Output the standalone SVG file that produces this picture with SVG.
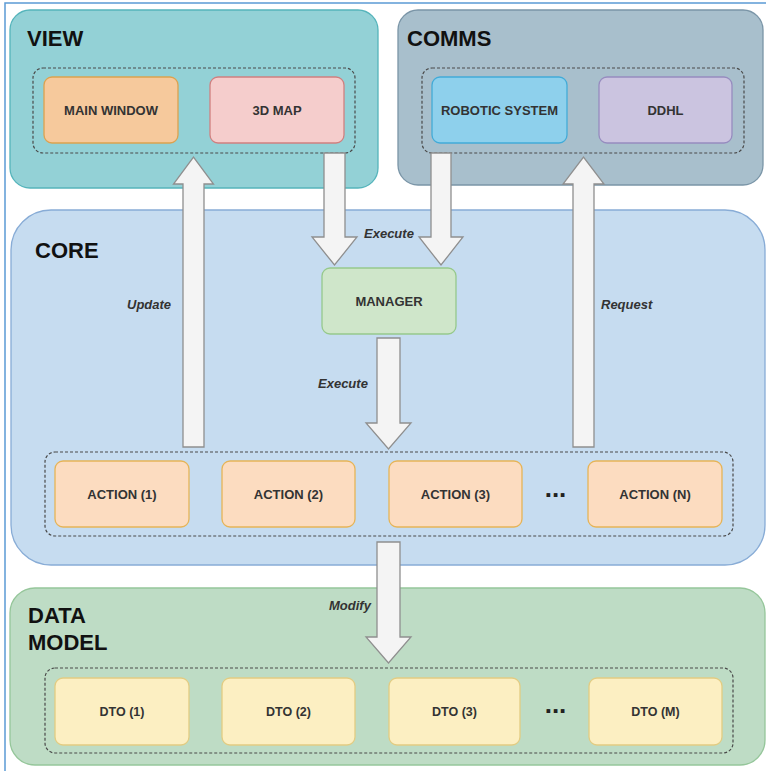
<svg xmlns="http://www.w3.org/2000/svg" width="766" height="771" viewBox="0 0 766 771">
  <style>
    .layer { stroke-width: 1.3; }
    .group { fill: none; stroke: #4a4a4a; stroke-width: 1.2; stroke-dasharray: 3 2; }
    .box { stroke-width: 1.3; }
    .title { font-family: "Liberation Sans", Arial, sans-serif; font-weight: bold; font-size: 22px; fill: #111; }
    .lbl { font-family: "Liberation Sans", Arial, sans-serif; font-weight: bold; font-size: 13px; fill: #333; text-anchor: middle; dominant-baseline: central; }
    .dto { font-size: 12.5px; }
    .dots { font-family: "Liberation Sans", Arial, sans-serif; font-weight: bold; font-size: 26px; fill: #222; text-anchor: middle; }
    .edge { font-family: "Liberation Sans", Arial, sans-serif; font-style: italic; font-weight: bold; font-size: 13px; fill: #333; }
    .arrow { fill: #f4f4f4; stroke: #8f8f8f; stroke-width: 1.3; stroke-linejoin: miter; }
    .action { fill: #fcdcc0; stroke: #e6b457; }
    .dtobox { fill: #fcefc2; stroke: #e2cc82; }
  </style>

  <rect width="766" height="771" fill="#ffffff"/>
  <!-- outer frame -->
  <rect x="5" y="3" width="780" height="790" fill="none" stroke="#5b9bd5" stroke-width="1.5"/>

  <!-- VIEW layer -->
  <g id="view">
    <rect class="layer" x="10" y="10" width="368" height="178" rx="20" fill="#93d1d6" stroke="#55b4bb"/>
    <text class="title" x="27" y="46">VIEW</text>
    <rect class="group" x="33" y="68" width="322" height="85" rx="10"/>
    <g id="main-window">
      <rect class="box" x="44" y="77" width="134" height="66" rx="8" fill="#f6c99c" stroke="#dca24f"/>
      <text class="lbl" x="111" y="110">MAIN WINDOW</text>
    </g>
    <g id="map-3d">
      <rect class="box" x="210" y="77" width="134" height="66" rx="8" fill="#f5cdcc" stroke="#cf8080"/>
      <text class="lbl" x="277" y="110">3D MAP</text>
    </g>
  </g>

  <!-- COMMS layer -->
  <g id="comms">
    <rect class="layer" x="398" y="10" width="365" height="175" rx="20" fill="#a8bfcc" stroke="#7a95a7"/>
    <text class="title" x="407" y="46">COMMS</text>
    <rect class="group" x="422" y="68" width="322" height="85" rx="10"/>
    <g id="robotic-system">
      <rect class="box" x="432" y="77" width="135" height="66" rx="8" fill="#8ed0ec" stroke="#42abd8"/>
      <text class="lbl" x="499.5" y="110">ROBOTIC SYSTEM</text>
    </g>
    <g id="ddhl">
      <rect class="box" x="599" y="77" width="133" height="66" rx="8" fill="#cbc4e0" stroke="#968cbf"/>
      <text class="lbl" x="665.5" y="110">DDHL</text>
    </g>
  </g>

  <!-- CORE layer -->
  <g id="core">
    <rect class="layer" x="11" y="210" width="754" height="355" rx="40" fill="#c6dcf0" stroke="#88acd6"/>
    <text class="title" x="35" y="258">CORE</text>
    <g id="manager">
      <rect class="box" x="322" y="268" width="134" height="66" rx="8" fill="#cfe6ca" stroke="#96c98c"/>
      <text class="lbl" x="389" y="301">MANAGER</text>
    </g>
    <rect class="group" x="45" y="452" width="688" height="84" rx="10"/>
    <g id="action-1">
      <rect class="box action" x="55" y="461" width="134" height="66" rx="8"/>
      <text class="lbl" x="122" y="494">ACTION (1)</text>
    </g>
    <g id="action-2">
      <rect class="box action" x="222" y="461" width="133" height="66" rx="8"/>
      <text class="lbl" x="288.5" y="494">ACTION (2)</text>
    </g>
    <g id="action-3">
      <rect class="box action" x="389" y="461" width="133" height="66" rx="8"/>
      <text class="lbl" x="455.5" y="494">ACTION (3)</text>
    </g>
    <text class="dots" x="555.5" y="497">...</text>
    <g id="action-n">
      <rect class="box action" x="588" y="461" width="134" height="66" rx="8"/>
      <text class="lbl" x="655" y="494">ACTION (N)</text>
    </g>
  </g>

  <!-- DATA MODEL layer -->
  <g id="data-model">
    <rect class="layer" x="10" y="588" width="755" height="177" rx="25" fill="#bedcc5" stroke="#95c69a"/>
    <text class="title" x="28" y="623">DATA</text>
    <text class="title" x="28" y="650">MODEL</text>
    <rect class="group" x="45" y="668" width="688" height="85" rx="10"/>
    <g id="dto-1">
      <rect class="box dtobox" x="55" y="678" width="134" height="67" rx="8"/>
      <text class="lbl dto" x="122" y="711.5">DTO (1)</text>
    </g>
    <g id="dto-2">
      <rect class="box dtobox" x="222" y="678" width="133" height="67" rx="8"/>
      <text class="lbl dto" x="288.5" y="711.5">DTO (2)</text>
    </g>
    <g id="dto-3">
      <rect class="box dtobox" x="389" y="678" width="131" height="67" rx="8"/>
      <text class="lbl dto" x="454.5" y="711.5">DTO (3)</text>
    </g>
    <text class="dots" x="555.5" y="713">...</text>
    <g id="dto-m">
      <rect class="box dtobox" x="589" y="678" width="133" height="67" rx="8"/>
      <text class="lbl dto" x="655.5" y="711.5">DTO (M)</text>
    </g>
  </g>

  <!-- block-arrow connectors -->
  <g id="connectors">
    <!-- Update: actions up to view -->
    <polygon class="arrow" points="183,447 204,447 204,184 213.5,184 193.5,157 173.5,184 183,184"/>
    <!-- 3D map down to manager -->
    <polygon class="arrow" points="324,153 345,153 345,237 357,237 334.5,265 312,237 324,237"/>
    <!-- robotic system down to manager -->
    <polygon class="arrow" points="431,153 451,153 451,237 463,237 441,265 419,237 431,237"/>
    <!-- manager down to actions -->
    <polygon class="arrow" points="377,338 400,338 400,423 411,423 388.5,449 366,423 377,423"/>
    <!-- Request: actions up to comms -->
    <polygon class="arrow" points="573,447 594,447 594,184 604,184 583.5,157 563,184 573,184"/>
    <!-- Modify: actions down to data model -->
    <polygon class="arrow" points="377,542 400,542 400,637 411,637 388.5,663 366,637 377,637"/>

    <text class="edge" x="364" y="238">Execute</text>
    <text class="edge" x="127" y="309">Update</text>
    <text class="edge" x="601" y="309">Request</text>
    <text class="edge" x="318" y="388">Execute</text>
    <text class="edge" x="329" y="610">Modify</text>
  </g>
</svg>
